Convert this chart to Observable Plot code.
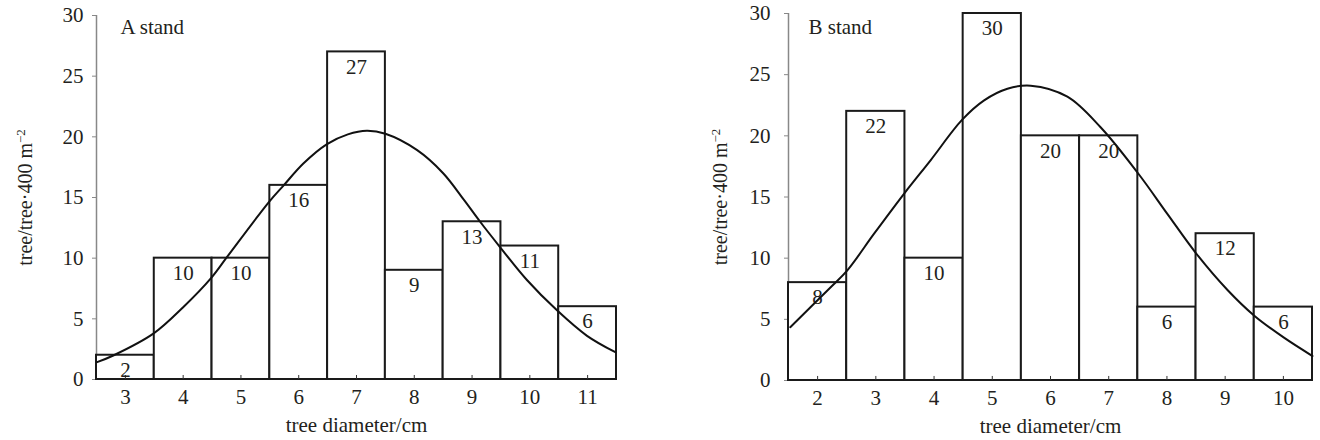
<!DOCTYPE html>
<html><head><meta charset="utf-8">
<script src="https://cdn.jsdelivr.net/npm/d3@7"></script>
<script src="https://cdn.jsdelivr.net/npm/@observablehq/plot@0.6"></script>
<style>
body{margin:0;background:#fff;font-family:"Liberation Serif",serif;}
#wrap{display:flex;width:1320px;height:440px;overflow:hidden;}
#wrap svg text {font-family: "Liberation Serif", serif !important;}
</style></head><body><div id="wrap"></div>
<script>
// Stand A
const diamA = [3, 4, 5, 6, 7, 8, 9, 10, 11];
const countA = [2, 10, 10, 16, 27, 9, 13, 11, 6];
const curveAx = [2.51, 2.8, 3.49, 4.0, 4.49, 4.76, 5.48, 5.74, 6.08, 6.49, 6.85, 7.18, 7.5, 8.05, 8.5, 8.86, 9.14, 9.47, 9.95, 10.47, 10.99, 11.48];
const curveAy = [1.43, 2.0, 3.8, 5.96, 8.4, 10.1, 14.6, 16.0, 17.8, 19.4, 20.2, 20.5, 20.25, 18.9, 17.0, 14.8, 13.0, 11.0, 8.2, 5.7, 3.6, 2.25];
// Stand B
const diamB = [2, 3, 4, 5, 6, 7, 8, 9, 10];
const countB = [8, 22, 10, 30, 20, 20, 6, 12, 6];
const curveBx = [1.53, 2.22, 2.51, 2.97, 3.49, 3.94, 4.48, 4.86, 5.26, 5.66, 6.29, 6.86, 7.51, 8.01, 8.5, 9.04, 9.5, 10.01, 10.5];
const curveBy = [4.36, 7.6, 9.0, 12.0, 15.3, 18.0, 21.3, 22.9, 23.85, 24.1, 23.2, 20.7, 16.9, 13.6, 10.4, 7.4, 5.3, 3.5, 2.0];
const yTicks = [0, 5, 10, 15, 20, 25, 30];
const yLabel = "tree/tree·400 m";
const xLabel = "tree diameter/cm";
const FONT = "Liberation Serif";
const INK = "#231f20";

function chart(o) {
  const bars = o.diam.map((d, i) => ({d, c: o.count[i]}));
  const curve = o.cx.map((x, i) => ({x, y: o.cy[i]}));
  const x0 = d3.min(o.diam) - 0.5, x1 = d3.max(o.diam) + 0.5;
  const svg = Plot.plot({
    width: 660, height: 440,
    marginLeft: o.ml, marginRight: o.mr, marginTop: o.mt, marginBottom: o.mb,
    style: "font-family: 'Liberation Serif', serif; font-size: 21px; color: #231f20; background: #fff;",
    x: {domain: [x0, x1], label: null},
    y: {domain: [0, 30], label: null},
    marks: [
      Plot.ruleX([x0], {stroke: "#888", strokeWidth: 1.5}),
      Plot.axisY({ticks: yTicks, tickSize: 4, tickPadding: o.tp, stroke: "#888", fill: INK, label: null, fontSize: 21, fontFamily: FONT}),
      Plot.axisX({ticks: o.diam, tickSize: 0, tickPadding: 10, tickFormat: d => d, fill: INK, label: null, fontSize: 21, fontFamily: FONT}),
      Plot.rectY(bars, {x1: d => d.d - 0.5, x2: d => d.d + 0.5, y: "c", fill: "white", stroke: "#1a1a1a", strokeWidth: 2}),
      Plot.ruleX(o.diam, {y1: 0, y2: 0.33, stroke: "#333", strokeWidth: 1}),
      Plot.text(bars, {x: "d", y: "c", text: "c", dy: 15, lineAnchor: "middle", fontSize: 21, fill: INK, fontFamily: FONT}),
      Plot.line(curve, {x: "x", y: "y", curve: "catmull-rom", stroke: "#111", strokeWidth: 2}),
      Plot.text([o.title], {frameAnchor: "top-left", dx: o.tdx, dy: o.tdy, textAnchor: "start", lineAnchor: "middle", fontSize: 21, fill: INK, fontFamily: FONT}),
      Plot.text([yLabel], {frameAnchor: "left", dx: -o.ldx, rotate: -90, textAnchor: "middle", lineAnchor: "middle", fontSize: 20, fill: INK, fontFamily: FONT}),
      Plot.text([xLabel], {frameAnchor: "bottom", dy: 46, textAnchor: "middle", lineAnchor: "middle", fontSize: 21, fill: INK, fontFamily: FONT})
    ]
  });
  d3.select(svg).selectAll("text").each(function() {
    if (this.textContent === yLabel) {
      d3.select(this).append("tspan").attr("baseline-shift", "super").attr("font-size", 13).text("−2");
    }
  });
  return svg;
}

const wrap = document.getElementById("wrap");
wrap.appendChild(chart({diam: diamA, count: countA, cx: curveAx, cy: curveAy, title: "A stand",
  ml: 96, mr: 44, mt: 15, mb: 61, tp: 9, tdx: 24, tdy: 12, ldx: 71}));
wrap.appendChild(chart({diam: diamB, count: countB, cx: curveBx, cy: curveBy, title: "B stand",
  ml: 128, mr: 8, mt: 13, mb: 60, tp: 14, tdx: 20, tdy: 14, ldx: 68}));
</script></body></html>
